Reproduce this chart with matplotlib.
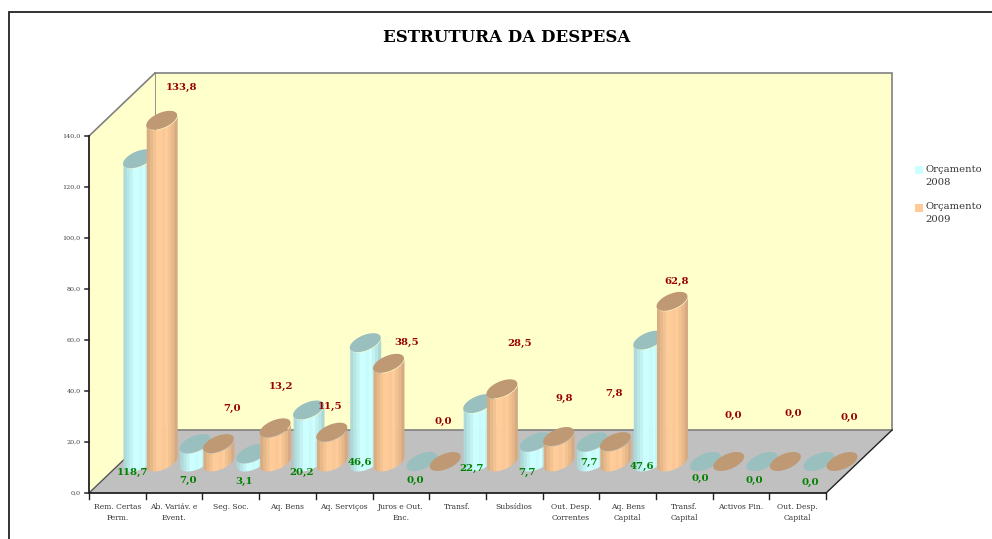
import numpy as np
import matplotlib
matplotlib.use("Agg")
import matplotlib.pyplot as plt

categorias = ["Rem. Certas\nPerm.", "Ab. Variáv. e\nEvent.", "Seg. Soc.", "Aq. Bens", "Aq. Serviços",
              "Juros e Out.\nEnc.", "Transf.", "Subsídios", "Out. Desp.\nCorrentes", "Aq. Bens\nCapital",
              "Transf.\nCapital", "Activos Fin.", "Out. Desp.\nCapital"]
orc_2008 = [118.7, 7.0, 3.1, 20.2, 46.6, 0.0, 22.7, 7.7, 7.7, 47.6, 0.0, 0.0, 0.0]
orc_2009 = [133.8, 7.0, 13.2, 11.5, 38.5, 0.0, 28.5, 9.8, 7.8, 62.8, 0.0, 0.0, 0.0]
y_ticks = [0, 20, 40, 60, 80, 100, 120, 140]

# label offsets in pixels, Excel had them dragged around by hand
off_2008 = [(-5.5, 11), (-7, 19), (-8, 20), (-7, 11), (-5, 1), (-7, 19), (-7, 7),
            (-8, 11), (-3, 1), (-7, 5), (-5, 17), (-8, 19), (-9, 21)]
off_2009 = [(20, -33), (14, -35), (6, -41), (-2, -26), (18, -21), (-2, -40), (18, -45),
            (6, -38), (-1, -48), (5, -20), (5, -46), (8, -48), (7, -44)]

# projection of the fake 3D box
X0, Y0 = 89, 493
CAT_W = 56.7
UNIT = 2.55
DEPTH_X, DEPTH_Y = 66, 63
Y_MAX = 140
RAD_A = 13.2
RAD_BX, RAD_BY = 8.1, 9.5
SERIF = "DejaVu Serif"


def proj(cat, val, depth):
    return X0 + CAT_W * cat + DEPTH_X * depth, Y0 - UNIT * val - DEPTH_Y * depth


def ellipse(cx, cy, t):
    return cx + RAD_A * np.cos(t) + RAD_BX * np.sin(t), cy - RAD_BY * np.sin(t)


def lower_branch(cx, cy):
    t0 = np.arctan2(RAD_BX, RAD_A)
    return ellipse(cx, cy, np.linspace(t0 - np.pi, t0, 80))


def cylinder(ax, cat, val, side, top):
    cx, cy0 = proj(cat, 0, 0.5)
    cy1 = cy0 - UNIT * val
    if val > 0:
        xb, yb = lower_branch(cx, cy0)
        xt, yt = lower_branch(cx, cy1)
        shades = [0.85, 0.9, 0.95, 1, 1, 0.98, 1, 0.95, 0.9, 0.84]
        edges = np.linspace(xb[0], xb[-1], len(shades) + 1)
        for i, s in enumerate(shades):
            xs = np.linspace(edges[i], min(edges[i + 1] + 0.5, xb[-1]), 8)
            ax.fill_between(xs, np.interp(xs, xt, yt), np.interp(xs, xb, yb),
                            color=tuple(c * s for c in side), linewidth=0, zorder=3)
    ex, ey = ellipse(cx, cy1, np.linspace(0, 2 * np.pi, 90))
    ax.fill(ex, ey, color=top, linewidth=0, zorder=3)


fig = plt.figure(figsize=(9.92, 5.39), dpi=100)
ax = fig.add_axes([0, 0, 1, 1])
ax.set_xlim(0, 992)
ax.set_ylim(539, 0)
ax.axis("off")

# outer frame, only top and left survive in the original
ax.plot([9, 9, 992], [539, 12, 12], color="#222222", lw=1.3, solid_joinstyle="miter")

n = len(categorias)
c = [proj(0, 0, 0), proj(n, 0, 0), proj(n, 0, 1), proj(0, 0, 1)]
ax.fill([p[0] for p in c], [p[1] for p in c], color="#C0C0C0", linewidth=0, zorder=1)
w = [proj(0, 0, 1), proj(n, 0, 1), proj(n, Y_MAX, 1), proj(0, Y_MAX, 1)]
ax.fill([p[0] for p in w], [p[1] for p in w], facecolor="#FFFFCC", edgecolor="#808080", lw=1.2, zorder=1)
l = [proj(0, 0, 0), proj(0, 0, 1), proj(0, Y_MAX, 1), proj(0, Y_MAX, 0)]
ax.fill([p[0] for p in l], [p[1] for p in l], facecolor="#FFFFCC", edgecolor="none", zorder=1)
ax.plot([c[2][0], c[1][0]], [c[2][1], c[1][1]], color="#222222", lw=1, zorder=2)
ax.plot([c[0][0], c[3][0]], [c[0][1], c[3][1]], color="#555555", lw=1, zorder=2)
ax.plot([l[3][0], l[2][0]], [l[3][1], l[2][1]], color="#808080", lw=1.2, zorder=2)
ax.plot([c[0][0], c[1][0]], [c[0][1], c[1][1]], color="#222222", lw=1.3, zorder=2)
ax.plot([l[0][0], l[3][0]], [l[0][1], l[3][1]], color="#222222", lw=1.3, zorder=2)

for v in y_ticks:
    x, y = proj(0, v, 0)
    ax.plot([x - 4.5, x], [y, y], color="#222222", lw=1.1, zorder=2)
    ax.text(x - 8.5, y, ("%.1f" % v).replace(".", ","), ha="right", va="center",
            family=SERIF, fontsize=4.6, color="#404040")

for i in range(n + 1):
    x, y = proj(i, 0, 0)
    ax.plot([x, x], [y, y + 5.5], color="#222222", lw=1, zorder=2)

for i, cat in enumerate(categorias):
    x, y = proj(i + 0.5, 0, 0)
    ax.text(x, y + 14, cat.split("\n")[0], ha="center", va="center", family=SERIF, fontsize=5.5, color="#333333")
    if "\n" in cat:
        ax.text(x, y + 25, cat.split("\n")[1], ha="center", va="center", family=SERIF, fontsize=5.5, color="#333333")

cor_2008 = (0.8, 1.0, 1.0)
cor_2009 = (1.0, 0.8, 0.6)
for i in range(n):
    cylinder(ax, i + 0.29, orc_2008[i], cor_2008, "#99BFBF")
    cylinder(ax, i + 0.70, orc_2009[i], cor_2009, "#BF9973")

for i in range(n):
    x, y = proj(i + 0.29, 0, 0.5)
    ax.text(x + off_2008[i][0], y + off_2008[i][1], ("%.1f" % orc_2008[i]).replace(".", ","),
            ha="center", va="center", family=SERIF, weight="bold", fontsize=7.3, color="#008000", zorder=5)
    x, y = proj(i + 0.70, orc_2009[i], 0.5)
    ax.text(x + off_2009[i][0], y + off_2009[i][1], ("%.1f" % orc_2009[i]).replace(".", ","),
            ha="center", va="center", family=SERIF, weight="bold", fontsize=7.3, color="#990000", zorder=5)

ax.text(507, 38, "ESTRUTURA DA DESPESA", ha="center", va="center", family=SERIF, weight="bold",
        fontsize=12, color="black")

# legend by hand, the wrapped text does not suit ax.legend
for y, cor, nome in [(170, cor_2008, "Orçamento\n2008"), (207.5, cor_2009, "Orçamento\n2009")]:
    ax.fill([915, 923, 923, 915], [y - 4, y - 4, y + 4, y + 4], color=cor, linewidth=0)
    a, b = nome.split("\n")
    ax.text(925.5, y - 1, a, ha="left", va="center", family=SERIF, fontsize=7.2, color="#333333")
    ax.text(925.5, y + 12.5, b, ha="left", va="center", family=SERIF, fontsize=7.2, color="#333333")

fig.savefig("out.png", dpi=100)
